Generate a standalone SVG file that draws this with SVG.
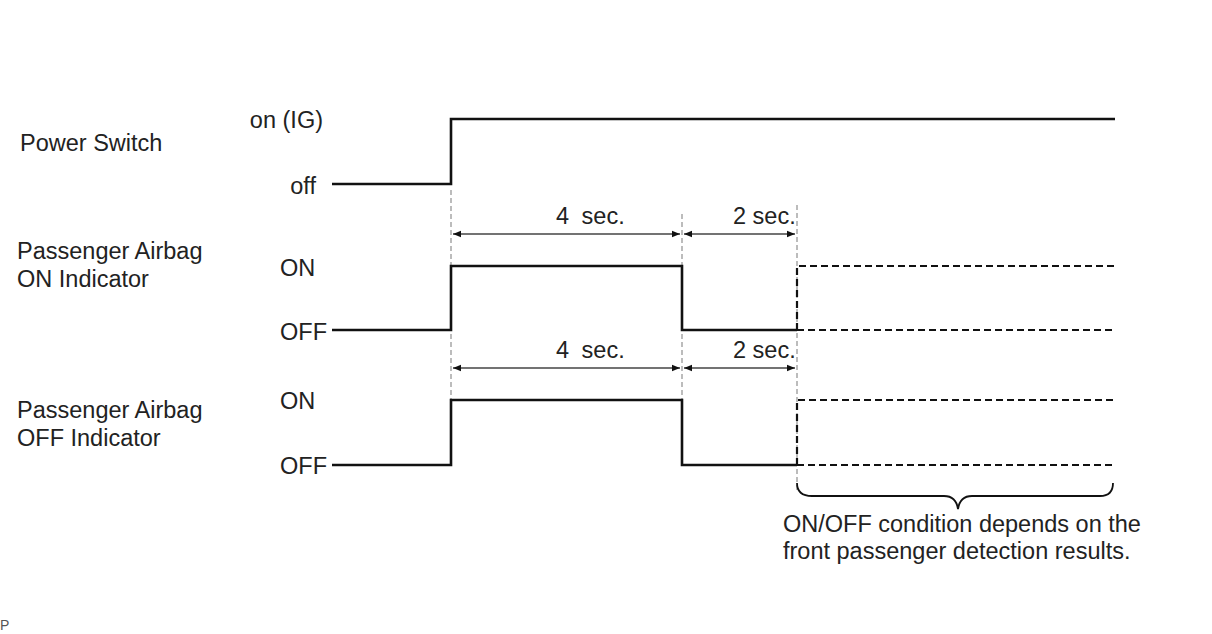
<svg xmlns="http://www.w3.org/2000/svg" width="1212" height="634" viewBox="0 0 1212 634">
<style>
text{font-family:"Liberation Sans",Arial,sans-serif;font-size:23.5px;fill:#222}
.sig{fill:none;stroke:#111;stroke-width:2.6}
.dsh{fill:none;stroke:#111;stroke-width:2.2;stroke-dasharray:7 4}
.guide{fill:none;stroke:#999;stroke-width:1.3;stroke-dasharray:5 3}
.dim{fill:none;stroke:#444;stroke-width:1.3;marker-start:url(#ah);marker-end:url(#ah)}
</style>
<defs>
<marker id="ah" viewBox="0 0 10 10" refX="10" refY="5" markerWidth="11" markerHeight="8" markerUnits="userSpaceOnUse" orient="auto-start-reverse">
<path d="M0,1 L10,5 L0,9 Z" fill="#111"/>
</marker>
</defs>
<rect width="1212" height="634" fill="#fff"/>
<g id="guides">
<line class="guide" x1="451" y1="190" x2="451" y2="400"/>
<line class="guide" x1="682" y1="214" x2="682" y2="400"/>
<line class="guide" x1="797" y1="205" x2="797" y2="490"/>
</g>
<g id="power-switch">
<text x="20" y="151">Power Switch</text>
<text x="323" y="128" text-anchor="end">on (IG)</text>
<text x="316" y="194" text-anchor="end">off</text>
<path class="sig" d="M332,184 H451 V119 H1115"/>
</g>
<g id="on-indicator">
<text x="17" y="259">Passenger Airbag</text>
<text x="17" y="287">ON Indicator</text>
<text x="280" y="276">ON</text>
<text x="280" y="340">OFF</text>
<path class="sig" d="M332,330 H451 V266 H682 V330 H797"/>
<path class="dsh" d="M797,330 V266 H1115"/>
<path class="dsh" d="M797,330 H1115"/>
</g>
<g id="off-indicator">
<text x="17" y="418">Passenger Airbag</text>
<text x="17" y="446">OFF Indicator</text>
<text x="280" y="409">ON</text>
<text x="280" y="474">OFF</text>
<path class="sig" d="M332,465 H451 V400 H682 V465 H797"/>
<path class="dsh" d="M797,465 V400 H1115"/>
<path class="dsh" d="M797,465 H1115"/>
</g>
<g id="connectors">
<line class="dim" x1="453" y1="234" x2="680" y2="234"/>
<line class="dim" x1="684" y1="234" x2="795" y2="234"/>
<line class="dim" x1="453" y1="368" x2="680" y2="368"/>
<line class="dim" x1="684" y1="368" x2="795" y2="368"/>
<path d="M797,483 Q797,496 812,496 H944 Q956,496 958,509 Q960,496 972,496 H1100 Q1113,496 1113,483" fill="none" stroke="#111" stroke-width="1.8"/>
</g>
<g id="labels">
<text x="556" y="224">4<tspan dx="6"> sec.</tspan></text>
<text x="733" y="224">2 sec.</text>
<text x="556" y="358">4<tspan dx="6"> sec.</tspan></text>
<text x="733" y="358">2 sec.</text>
<text x="783" y="532">ON/OFF condition depends on the</text>
<text x="783" y="559">front passenger detection results.</text>
<text x="0" y="630" style="font-size:14px;fill:#555">P</text>
</g>
</svg>
